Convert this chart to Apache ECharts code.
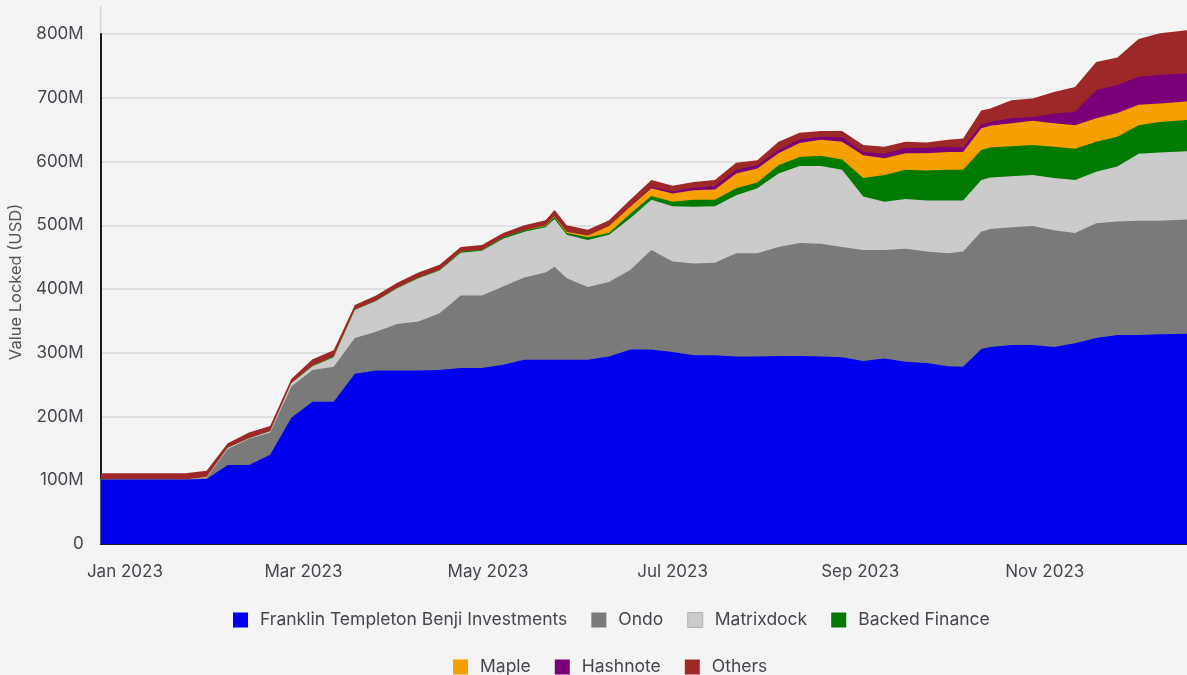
<!DOCTYPE html>
<html lang="en">
<head>
    <meta charset="UTF-8">
    <title>Value Locked</title>
    <script src="https://cdn.jsdelivr.net/npm/echarts@6/dist/echarts.min.js"></script>
    <style>
        html, body { margin: 0; padding: 0; background: #f4f4f4; }
    </style>
</head>
<body>
    <div id="chart" style="width: 1187px;height: 675px;"></div>
    <script>
        // dates of the samples (weekly, plus a few turning points)
        const dates = ['2022-12-24', '2022-12-31', '2023-01-07', '2023-01-14', '2023-01-21', '2023-01-28',
            '2023-02-04', '2023-02-11', '2023-02-18', '2023-02-25', '2023-03-04', '2023-03-11', '2023-03-18',
            '2023-03-25', '2023-04-01', '2023-04-08', '2023-04-15', '2023-04-22', '2023-04-29', '2023-05-06',
            '2023-05-13', '2023-05-20', '2023-05-23', '2023-05-27', '2023-06-03', '2023-06-10', '2023-06-17',
            '2023-06-24', '2023-07-01', '2023-07-08', '2023-07-15', '2023-07-22', '2023-07-29', '2023-08-05',
            '2023-08-12', '2023-08-19', '2023-08-26', '2023-09-02', '2023-09-09', '2023-09-16', '2023-09-23',
            '2023-09-30', '2023-10-05', '2023-10-11', '2023-10-14', '2023-10-21', '2023-10-28', '2023-11-04',
            '2023-11-11', '2023-11-18', '2023-11-25', '2023-12-02', '2023-12-09', '2023-12-18'];

        // values in millions of USD
        const franklin = [101, 101, 101, 101, 101, 102, 124, 124, 140, 198, 223, 223, 267, 272, 272, 272, 273, 276,
            276, 281, 289, 289, 289, 289, 289, 294, 305, 305, 301, 296, 296, 294, 294, 295, 295, 294, 293, 287, 291,
            286, 284, 279, 278, 306, 309, 312, 312, 309, 315, 323, 328, 328, 329, 330];
        const ondo = [0, 0, 0, 0, 0, 2, 25, 41, 35, 49, 50, 55, 56, 61, 73, 77, 89, 114, 114, 123, 129, 137, 146,
            128, 114, 117, 125, 156, 142, 144, 145, 162, 162, 171, 177, 177, 173, 174, 170, 177, 175, 177, 181, 184,
            185, 185, 187, 183, 173, 180, 178, 179, 178, 179];
        const matrixdock = [0, 0, 0, 0, 0, 1, 2, 1, 2, 5, 6, 15, 44, 48, 56, 68, 67, 67, 70, 75, 72, 71, 75, 68, 74,
            74, 81, 79, 87, 89, 89, 91, 102, 115, 121, 122, 121, 84, 76, 78, 80, 83, 80, 81, 81, 80, 80, 82, 83, 81,
            86, 105, 107, 107];
        const backed = [0, 0, 0, 0, 0, 0, 0, 0, 0, 0, 1, 1, 1, 1, 1, 1, 1, 2, 1, 2, 2, 2, 3, 3, 4, 3, 7, 6, 7, 11,
            10, 11, 9, 13, 14, 16, 16, 29, 42, 46, 47, 48, 48, 47, 47, 47, 47, 49, 49, 47, 47, 45, 48, 49];
        const maple = [0, 0, 0, 0, 0, 0, 0, 0, 0, 0, 0, 0, 0, 0, 0, 0, 0, 0, 0, 0, 0, 1, 1, 2, 3, 11, 11, 12, 13, 15,
            16, 23, 22, 19, 22, 25, 28, 36, 26, 26, 27, 28, 28, 34, 34, 36, 38, 37, 37, 37, 37, 32, 29, 29];
        const hashnote = [0, 0, 0, 0, 0, 0, 0, 0, 0, 0, 0, 0, 0, 0, 0, 0, 0, 0, 0, 0, 0, 0, 0, 0, 0, 0, 1, 2, 3, 4,
            5, 6, 5, 5, 6, 5, 7, 5, 7, 8, 8, 8, 7, 6, 6, 8, 6, 15, 21, 44, 44, 44, 45, 44];
        const others = [10, 10, 10, 10, 10, 10, 7, 9, 8, 7, 10, 10, 7, 8, 8, 8, 8, 7, 8, 7, 8, 8, 10, 10, 9, 9, 10,
            11, 9, 9, 10, 11, 8, 13, 10, 9, 10, 11, 11, 10, 9, 11, 14, 22, 21, 28, 29, 34, 39, 44, 43, 59, 65, 68];

        const seriesNames = ['Franklin Templeton Benji Investments', 'Ondo', 'Matrixdock', 'Backed Finance',
            'Maple', 'Hashnote', 'Others'];
        const seriesValues = [franklin, ondo, matrixdock, backed, maple, hashnote, others];
        const colors = ['#0000f0', '#7a7a7a', '#cbcbcb', '#007a00', '#f5a000', '#7a007a', '#9e2828'];

        // axis labels
        const xLabelDates = ['2023-01-01', '2023-03-01', '2023-05-01', '2023-07-01', '2023-09-01', '2023-11-01'];
        const monthNames = ['Jan', 'Feb', 'Mar', 'Apr', 'May', 'Jun', 'Jul', 'Aug', 'Sep', 'Oct', 'Nov', 'Dec'];

        const toTime = d => new Date(d + 'T00:00:00').getTime();
        const xMin = toTime(dates[0]);
        const xMax = toTime(dates[dates.length - 1]);

        const textColor = '#45454f';
        const font = 'Inter';

        let myChart = echarts.init(document.getElementById('chart'));

        // running totals: each layer is drawn as an area from zero up to its own top,
        // the tallest first so the lower layers cover it
        let series = [];
        for (let i = seriesNames.length - 1; i >= 0; i--) {
            series.push({
                name: seriesNames[i],
                type: 'line',
                data: dates.map((d, j) => {
                    let sum = 0;
                    for (let k = 0; k <= i; k++) sum += seriesValues[k][j];
                    return [toTime(d), sum];
                }),
                showSymbol: false,
                symbol: 'none',
                clip: false,
                lineStyle: { width: 0 },
                areaStyle: { color: colors[i], opacity: 1, origin: 'start' },
                itemStyle: { color: colors[i] },
                emphasis: { disabled: true }
            });
        }

        const legendText = { color: textColor, fontFamily: font, fontSize: 17.5, padding: [0, 0, 0, 7] };

        let option = {
            backgroundColor: '#f4f4f4',
            animation: false,
            grid: { left: 100, right: 0, top: 34, bottom: 131 },
            xAxis: {
                // timestamps on a plain value axis so the label dates can be given explicitly
                type: 'value',
                min: xMin,
                max: xMax,
                axisLine: { lineStyle: { color: '#1a1a1a', width: 2 } },
                axisTick: { show: false },
                splitLine: { show: false },
                axisLabel: {
                    customValues: xLabelDates.map(toTime),
                    margin: 19,
                    color: textColor,
                    fontFamily: font,
                    fontSize: 17,
                    formatter: function (v) {
                        const d = new Date(v);
                        return monthNames[d.getMonth()] + ' ' + d.getFullYear();
                    }
                }
            },
            yAxis: {
                type: 'value',
                min: 0,
                max: 800,
                interval: 100,
                name: 'Value Locked (USD)',
                nameLocation: 'middle',
                nameGap: 71,
                nameTextStyle: { color: '#55555f', fontFamily: font, fontSize: 16.5, padding: [0, 0, 0, 14] },
                axisLine: { show: true, lineStyle: { color: '#1a1a1a', width: 2 } },
                axisTick: { show: false },
                splitLine: { lineStyle: { color: '#d9d9d9', width: 1.5 } },
                axisLabel: {
                    margin: 17,
                    color: textColor,
                    fontFamily: font,
                    fontSize: 17,
                    formatter: v => v === 0 ? '0' : v + 'M'
                }
            },
            legend: [{
                data: seriesNames.slice(0, 4).map((n, i) => i === 2 ?
                    { name: n, itemStyle: { borderColor: '#b0b0b0', borderWidth: 1 } } : n),
                left: 228,
                top: 606,
                icon: 'rect',
                itemWidth: 15,
                itemHeight: 15,
                itemGap: 24,
                selectedMode: false,
                textStyle: legendText
            }, {
                data: seriesNames.slice(4),
                left: 448,
                top: 653,
                icon: 'rect',
                itemWidth: 15,
                itemHeight: 15,
                itemGap: 24,
                selectedMode: false,
                textStyle: legendText
            }],
            series: series
        };

        myChart.setOption(option);

        // faint continuation of the y axis above the last tick
        const axisTop = myChart.convertToPixel({ gridIndex: 0 }, [xMin, 800]);
        myChart.setOption({
            graphic: [{
                type: 'line',
                silent: true,
                shape: { x1: axisTop[0], y1: 6, x2: axisTop[0], y2: axisTop[1] },
                style: { stroke: '#d6d6d6', lineWidth: 1.5 }
            }]
        });
    </script>
</body>
</html>
